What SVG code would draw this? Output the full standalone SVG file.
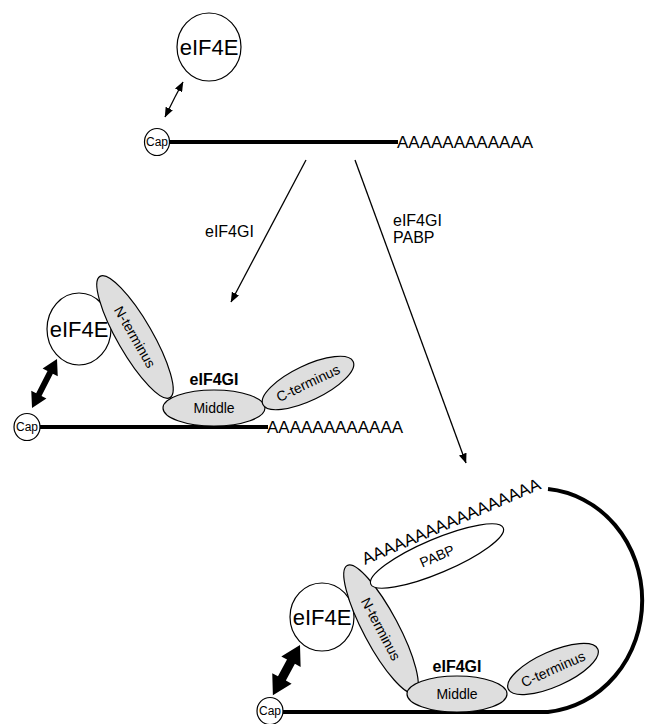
<svg xmlns="http://www.w3.org/2000/svg" width="660" height="724" viewBox="0 0 660 724">
<style>
text{font-family:"Liberation Sans",Arial,sans-serif;fill:#000}
.big{font-size:22px}
.lbl{font-size:16px}
.bold{font-size:16px;font-weight:bold}
.small{font-size:14px}
.cap{font-size:12px}
.polyA{font-size:17px}
.circ{fill:#fff;stroke:#000;stroke-width:1.2}
.grey{fill:#dedede;stroke:#000;stroke-width:1.2}
.wht{fill:#fff;stroke:#000;stroke-width:1.2}
.rna{stroke:#000;stroke-width:4;fill:none}
.thin{stroke:#000;stroke-width:1.3;fill:none}
</style>
<defs>
<marker id="ah" markerUnits="userSpaceOnUse" markerWidth="10" markerHeight="8" refX="9.5" refY="4" orient="auto-start-reverse">
<path d="M0,0 L10,4 L0,8 z" fill="#000"/>
</marker>
</defs>

<g id="connectors">
<line class="thin" x1="175" y1="97" x2="183" y2="82" marker-end="url(#ah)"/>
<line class="thin" x1="175" y1="97" x2="165" y2="117" marker-end="url(#ah)"/>
<line class="thin" x1="306" y1="160" x2="231" y2="302" marker-end="url(#ah)"/>
<line class="thin" x1="355" y1="160" x2="466" y2="463" marker-end="url(#ah)"/>
<polygon transform="translate(57 359) rotate(117)" points="0,0 15,-8.5 15,-3 40,-3 40,-8.5 55,0 40,8.5 40,3 15,3 15,8.5" fill="#000"/>
<polygon transform="translate(300 645) rotate(118.4)" points="0,0 19,-11 19,-4.5 38,-4.5 38,-11 57,0 38,11 38,4.5 19,4.5 19,11" fill="#000"/>
</g>

<g id="labels">
<text class="lbl" x="205" y="237">eIF4GI</text>
<text class="lbl" x="393" y="226">eIF4GI</text>
<text class="lbl" x="393" y="243">PABP</text>
</g>

<!-- top mRNA -->
<g id="mrna1">
<line class="rna" x1="170" y1="142" x2="398" y2="142"/>
<text class="polyA" x="397" y="148">AAAAAAAAAAAA</text>
</g>
<g id="cap1">
<ellipse class="circ" cx="157" cy="142" rx="12.5" ry="13.5"/>
<text class="cap" x="157" y="146" text-anchor="middle">Cap</text>
</g>
<g id="eIF4E1">
<ellipse class="circ" cx="209" cy="47" rx="32" ry="34"/>
<text class="big" x="209" y="55" text-anchor="middle">eIF4E</text>
</g>

<!-- middle complex -->
<g id="mrna2">
<line class="rna" x1="40" y1="427" x2="268" y2="427"/>
<text class="polyA" x="267" y="433">AAAAAAAAAAAA</text>
</g>
<g id="cap2">
<ellipse class="circ" cx="27" cy="427" rx="13" ry="13.5"/>
<text class="cap" x="27" y="431" text-anchor="middle">Cap</text>
</g>
<g id="eIF4E2">
<ellipse class="circ" cx="79" cy="329" rx="32" ry="36"/>
<text class="big" x="79" y="337" text-anchor="middle">eIF4E</text>
</g>
<g id="nterm2">
<ellipse class="grey" transform="translate(135 337) rotate(60)" cx="0" cy="0" rx="70" ry="17.5"/>
<text class="small" transform="translate(135 337) rotate(60)" x="0" y="5" text-anchor="middle">N-terminus</text>
</g>
<g id="middle2">
<ellipse class="grey" cx="214" cy="408" rx="51" ry="18"/>
<text class="small" x="214" y="413" text-anchor="middle">Middle</text>
</g>
<g id="cterm2">
<ellipse class="grey" transform="translate(308 383) rotate(-25.5)" cx="0" cy="0" rx="50" ry="17.5"/>
<text class="small" transform="translate(308 383) rotate(-25.5)" x="0" y="5" text-anchor="middle">C-terminus</text>
</g>
<g id="eIF4GI2">
<text class="bold" x="214" y="385" text-anchor="middle">eIF4GI</text>
</g>

<!-- bottom closed loop -->
<g id="mrna3">
<path class="rna" d="M283,712 L548,712 A104,112 0 0 0 548,489"/>
<text class="polyA" transform="translate(365 565) rotate(-23.4)" x="0" y="0">AAAAAAAAAAAAAAAAA</text>
</g>
<g id="cap3">
<ellipse class="circ" cx="270" cy="711" rx="13" ry="13.5"/>
<text class="cap" x="270" y="715" text-anchor="middle">Cap</text>
</g>
<g id="eIF4E3">
<ellipse class="circ" cx="322" cy="617" rx="32" ry="34"/>
<text class="big" x="322" y="625" text-anchor="middle">eIF4E</text>
</g>
<g id="nterm3">
<ellipse class="grey" transform="translate(381 629) rotate(62)" cx="0" cy="0" rx="72" ry="17.5"/>
<text class="small" transform="translate(381 629) rotate(62)" x="0" y="5" text-anchor="middle">N-terminus</text>
</g>
<g id="pabp">
<ellipse class="wht" transform="translate(437 556) rotate(-23)" cx="0" cy="0" rx="72" ry="17"/>
<text class="small" transform="translate(437 556) rotate(-23)" x="0" y="5" text-anchor="middle">PABP</text>
</g>
<g id="middle3">
<ellipse class="grey" cx="457" cy="694" rx="50" ry="18"/>
<text class="small" x="457" y="699" text-anchor="middle">Middle</text>
</g>
<g id="cterm3">
<ellipse class="grey" transform="translate(553 669) rotate(-24)" cx="0" cy="0" rx="49" ry="17.5"/>
<text class="small" transform="translate(553 669) rotate(-24)" x="0" y="5" text-anchor="middle">C-terminus</text>
</g>
<g id="eIF4GI3">
<text class="bold" x="457" y="672" text-anchor="middle">eIF4GI</text>
</g>
</svg>
